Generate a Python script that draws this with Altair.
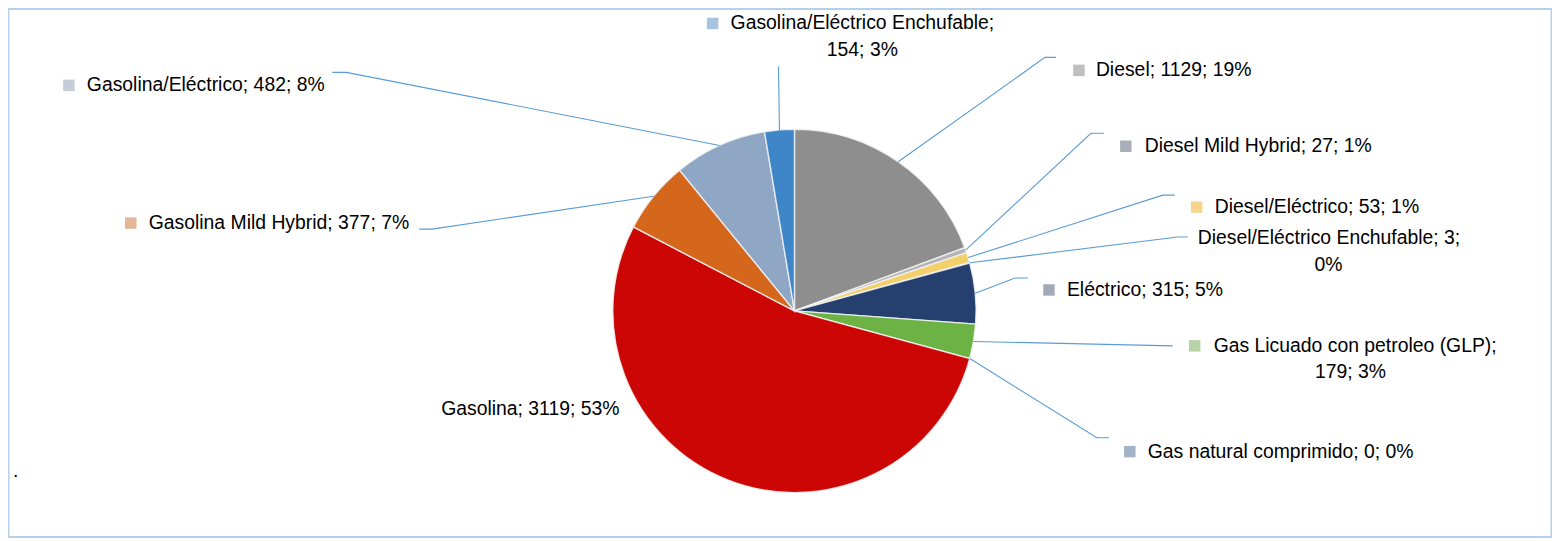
import math
import altair as alt
import pandas as pd

# ---------------- data ----------------
categories = [
    "Diesel", "Diesel Mild Hybrid", "Diesel/Eléctrico", "Diesel/Eléctrico Enchufable",
    "Eléctrico", "Gas Licuado con petroleo (GLP)", "Gas natural comprimido",
    "Gasolina", "Gasolina Mild Hybrid", "Gasolina/Eléctrico", "Gasolina/Eléctrico Enchufable",
]
values = [1129, 27, 53, 3, 315, 179, 0, 3119, 377, 482, 154]
percent_labels = ["19%", "1%", "1%", "0%", "5%", "3%", "0%", "53%", "7%", "8%", "3%"]

# ---------------- styles ----------------
slice_colors = ["#8e8e8e", "#b4b6bb", "#f4d06a", "#c9c9c9", "#253f6f", "#6db245",
                "#a3b1c4", "#cc0505", "#d5671d", "#8fa6c4", "#3f86c9"]
marker_colors = ["#bfbfbf", "#a9aeb9", "#f5d68c", None, "#a2aaba", "#b6d4a8",
                 "#a4b2c5", None, "#e5b597", "#c6cdd9", "#a6c4e1"]
LEADER = "#5b9bd5"
FRAME = "#b7d0ea"
FONT = "Liberation Sans"
FSIZE = 19.4
LINE_GAP = 26.5

# ---------------- layout (page pixels) ----------------
W, H = 1547, 530
OFF = 8  # page margin
CX, CY, R = 796, 311, 182

layout = {
    "Diesel": dict(marker=(1081, 70), text=(1098, 70), wrap=None, path=[(1047, 57), (1058, 57)]),
    "Diesel Mild Hybrid": dict(marker=(1128, 146), text=(1147, 146), wrap=None, path=[(1093, 133), (1106, 133)]),
    "Diesel/Eléctrico": dict(marker=(1199, 207), text=(1217, 207), wrap=None, path=[(1165, 195), (1177, 195)]),
    "Diesel/Eléctrico Enchufable": dict(marker=None, text=(1200, 238), wrap="pct", center2=1331, path=[(1180, 237), (1190, 237)]),
    "Eléctrico": dict(marker=(1051, 290), text=(1069, 290), wrap=None, path=[(1017, 278), (1030, 278)]),
    "Gas Licuado con petroleo (GLP)": dict(marker=(1197, 346), text=(1216, 346), wrap="value", center2=1353, path=[(1175, 346)]),
    "Gas natural comprimido": dict(marker=(1132, 452), text=(1150, 452), wrap=None, path=[(1099, 438), (1111, 438)]),
    "Gasolina": dict(marker=None, text=(442, 409), wrap=None, path=[]),
    "Gasolina Mild Hybrid": dict(marker=(131, 223), text=(149, 223), wrap=None, path=[(433, 229), (420, 229)]),
    "Gasolina/Eléctrico": dict(marker=(69, 85), text=(87, 85), wrap=None, path=[(347, 72), (333, 72)]),
    "Gasolina/Eléctrico Enchufable": dict(marker=(714, 23), text=(732, 23), wrap="value", center2=864, path=[(780, 66)]),
}

# ---------------- tables ----------------
pie_df = pd.DataFrame({"category": categories, "value": values, "idx": range(len(categories))})

total = float(sum(values))
cum = 0.0
line_rows, marker_rows, left_rows, center_rows = [], [], [], []
for i, (cat, v, pct) in enumerate(zip(categories, values, percent_labels)):
    ang = (cum + v / 2.0) / total * 2 * math.pi
    cum += v
    lay = layout[cat]
    if lay["path"]:
        sx = CX + R * math.sin(ang)
        sy = CY - R * math.cos(ang)
        pts = [(sx, sy)] + lay["path"]
        for k, (px, py) in enumerate(pts):
            line_rows.append({"category": cat, "k": k, "x": px, "y": py})
    if lay["marker"] is not None and marker_colors[i] is not None:
        marker_rows.append({"x": lay["marker"][0], "y": lay["marker"][1], "c": marker_colors[i]})
    tx, ty = lay["text"]
    if lay["wrap"] is None:
        left_rows.append({"x": tx, "y": ty, "t": f"{cat}; {v}; {pct}"})
    elif lay["wrap"] == "pct":
        left_rows.append({"x": tx, "y": ty, "t": f"{cat}; {v};"})
        center_rows.append({"x": lay["center2"], "y": ty + LINE_GAP, "t": pct})
    else:
        left_rows.append({"x": tx, "y": ty, "t": f"{cat};"})
        center_rows.append({"x": lay["center2"], "y": ty + LINE_GAP, "t": f"{v}; {pct}"})

left_rows.append({"x": 13, "y": 471, "t": "."})

xs = alt.Scale(domain=[OFF, OFF + W], nice=False, zero=False)
ys = alt.Scale(domain=[OFF, OFF + H], nice=False, zero=False, reverse=True)
X = lambda: alt.X("x:Q", scale=xs, axis=None)
Y = lambda: alt.Y("y:Q", scale=ys, axis=None)

pie = alt.Chart(pie_df).mark_arc(outerRadius=R, stroke="#f2f2f2", strokeWidth=1.4, strokeOpacity=0.85).encode(
    theta=alt.Theta("value:Q", stack=True),
    color=alt.Color("category:N", scale=alt.Scale(domain=categories, range=slice_colors), legend=None),
    order=alt.Order("idx:Q"),
    x=alt.value(CX - OFF),
    y=alt.value(CY - OFF),
)

leaders = alt.Chart(pd.DataFrame(line_rows)).mark_line(color=LEADER, strokeWidth=1.1).encode(
    x=X(), y=Y(), detail="category:N", order="k:Q"
)

markers = alt.Chart(pd.DataFrame(marker_rows)).mark_square(size=132, opacity=1).encode(
    x=X(), y=Y(), color=alt.Color("c:N", scale=None)
)

texts_left = alt.Chart(pd.DataFrame(left_rows)).mark_text(
    align="left", baseline="middle", font=FONT, fontSize=FSIZE, color="#000000"
).encode(x=X(), y=Y(), text="t:N")

texts_center = alt.Chart(pd.DataFrame(center_rows)).mark_text(
    align="center", baseline="middle", font=FONT, fontSize=FSIZE, color="#000000"
).encode(x=X(), y=Y(), text="t:N")

chart = alt.layer(pie, leaders, markers, texts_left, texts_center).properties(
    width=W, height=H, padding=0, autosize="none", background="white"
).configure_view(stroke=FRAME, strokeWidth=3)

chart.save("out.html", embed_options={"renderer": "svg", "actions": False})
